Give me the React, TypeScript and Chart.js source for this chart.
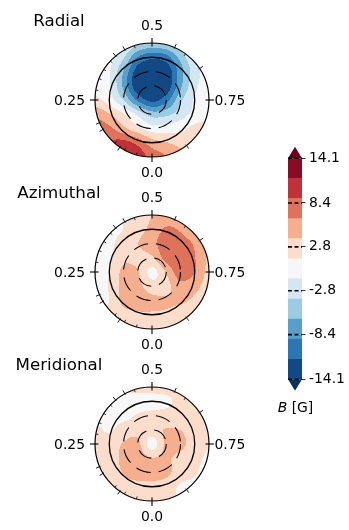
import React, { useEffect, useRef } from "react";
import { Chart, registerables } from "chart.js";

Chart.register(...registerables);

const FONT = "'DejaVu Sans', sans-serif";

// ---------- data ----------
const MAP_TITLES = ["Radial", "Azimuthal", "Meridional"];
const PHASE_TICKS = [0, 0.25, 0.5, 0.75];
const PHASE_TICK_LABELS = ["0.0", "0.25", "0.5", "0.75"];
const OBS_PHASES_OUT = [0.095, 0.164, 0.185, 0.39, 0.421, 0.565, 0.657, 0.897];
const OBS_PHASES_IN = [0.044, 0.08, 0.113, 0.278, 0.311, 0.34, 0.37, 0.45, 0.6];
const DASHED_COLATITUDES = [30, 60];
const EQUATOR_COLATITUDE = 90;
const EDGE_COLATITUDE = 120;

const CONTOUR_LEVELS = [-14.1, -11.54, -8.97, -6.41, -3.85, -1.28, 1.28, 3.85, 6.41, 8.97, 11.54, 14.1];
const LEVEL_COLORS = [
  "#124883", "#2d76b4", "#58a0ca", "#9dcbe1", "#d4e6f1", "#f7f7f7",
  "#fcddcb", "#f6af8e", "#de725b", "#bf3237", "#890b24",
];
const UNDER_COLOR = "#053061";
const OVER_COLOR = "#67001f";
const COLORBAR_TICKS = [-14.1, -8.4, -2.8, 2.8, 8.4, 14.1];
const COLORBAR_SYMBOL = "B";
const COLORBAR_UNIT = " [G]";

// field samples (G) on a 9x9 grid across each disc: rows top -> bottom, columns left -> right
const RADIAL_FIELD = [
  [0, 0, -1, -3.5, -4.5, -4, -2, -0.5, 0],
  [0, -0.5, -3.5, -9, -11, -10, -5.5, -1.5, 0],
  [0, -1, -6.5, -13, -13.8, -13.5, -7.5, -2.5, 0],
  [0.5, -1, -7, -13.5, -13.8, -13.5, -7, -2, 0],
  [2, 0, -4, -9.5, -12.2, -10, -4.5, -1, 0.5],
  [6, 4, 1.5, -2, -5, -4.5, -2.5, -0.5, 0.5],
  [8, 7, 4.5, 2, 0, 0, 0.5, 2, 2.5],
  [10, 9.5, 9.8, 8.2, 5, 4, 3, 3, 3],
  [12, 11.5, 11, 10.5, 8, 6.5, 5, 4, 4],
];
const AZIMUTHAL_FIELD = [
  [0.3, 0.5, 1.5, 3, 3.8, 4.5, 4.5, 3.5, 3],
  [0.3, 0.5, 1.3, 3, 4.5, 6.8, 6, 4, 3],
  [0.3, 0.5, 2.8, 3.8, 5.5, 8, 7.8, 6, 3.5],
  [0.3, 1, 3.2, 3.2, 3.5, 7.5, 8.5, 6.5, 3.5],
  [0.3, 1.3, 4.5, 4, 0.5, 4, 8, 6.5, 3],
  [0.3, 1.5, 4.8, 4.5, 2.5, 3, 5.5, 4.5, 3],
  [0.3, 1.3, 4.5, 5, 4.5, 4.2, 4.2, 3.5, 3],
  [0.8, 2, 3, 3.5, 3.6, 3.5, 3, 3, 2.5],
  [1, 1.5, 2.5, 3, 3, 3, 2.5, 2.5, 2.5],
];
const MERIDIONAL_FIELD = [
  [2, 2, 2, 2, 2.2, 2.2, 2.2, 2.2, 2.2],
  [1.5, 1, 0.3, 0.2, 0.3, 0.8, 2, 2.5, 2.5],
  [1, 0.3, 0.5, 1.5, 2, 2.2, 2.5, 2.5, 2.5],
  [1.8, 1, 2.5, 2.8, 3, 4, 3.8, 2.5, 2],
  [2.5, 2.5, 4, 4.5, 0, 4.5, 4.5, 2.5, 1.5],
  [2.5, 2.5, 4.5, 5, 4, 4.2, 3, 2, 0.8],
  [2.5, 2.5, 4, 5, 5, 4.5, 2.5, 1.5, 0.5],
  [2, 2.5, 3, 3, 3, 2.5, 1, 0.8, 0.8],
  [2, 2, 2.5, 2.5, 2.5, 2, 1.2, 1.2, 1.5],
];
const FIELDS = [RADIAL_FIELD, AZIMUTHAL_FIELD, MERIDIONAL_FIELD];

// ---------- layout ----------
const DISC_PX = 57;
const MAP_W = 262;
const MAP_H = 182;
const MAP_CX = 152;
const MAP_CENTERS_Y = [100, 271.5, 444.3];

// ---------- helpers ----------
function hexToRgb(h: string) {
  const n = parseInt(h.slice(1), 16);
  return [(n >> 16) & 255, (n >> 8) & 255, n & 255];
}
const LEVEL_RGB = LEVEL_COLORS.map(hexToRgb);
const UNDER_RGB = hexToRgb(UNDER_COLOR);
const OVER_RGB = hexToRgb(OVER_COLOR);

function colorFor(v: number) {
  if (v < CONTOUR_LEVELS[0]) return UNDER_RGB;
  for (let i = 0; i < LEVEL_RGB.length; i++) {
    if (v < CONTOUR_LEVELS[i + 1]) return LEVEL_RGB[i];
  }
  return OVER_RGB;
}

function cr(p0: number, p1: number, p2: number, p3: number, t: number) {
  return 0.5 * (2 * p1 + (-p0 + p2) * t + (2 * p0 - 5 * p1 + 4 * p2 - p3) * t * t + (-p0 + 3 * p1 - 3 * p2 + p3) * t * t * t);
}

function sampleField(f: number[][], u: number, v: number) {
  const n = f.length;
  const gx = ((u + 1) / 2) * (n - 1);
  const gy = ((1 - v) / 2) * (n - 1);
  const ix = Math.min(n - 2, Math.max(0, Math.floor(gx)));
  const iy = Math.min(n - 2, Math.max(0, Math.floor(gy)));
  const tx = gx - ix;
  const ty = gy - iy;
  const g = (r: number, c: number) => f[Math.min(n - 1, Math.max(0, r))][Math.min(n - 1, Math.max(0, c))];
  const rows: number[] = [];
  for (let k = -1; k <= 2; k++) {
    const r = iy + k;
    rows.push(cr(g(r, ix - 1), g(r, ix), g(r, ix + 1), g(r, ix + 2), tx));
  }
  const val = cr(rows[0], rows[1], rows[2], rows[3], ty);
  const corners = [g(iy, ix), g(iy, ix + 1), g(iy + 1, ix), g(iy + 1, ix + 1)];
  return Math.min(Math.max(...corners), Math.max(Math.min(...corners), val));
}

function makeMapPlugin(title: string, field: number[][]) {
  return {
    id: "stellarMap",
    afterDraw(chart: any) {
      const ctx: CanvasRenderingContext2D = chart.ctx;
      const xs = chart.scales.x;
      const ys = chart.scales.y;
      const cx = xs.getPixelForValue(0);
      const cy = ys.getPixelForValue(0);
      const R = xs.getPixelForValue(1) - cx;
      const toPx = (phase: number, rho: number) => {
        const a = 2 * Math.PI * phase;
        return [xs.getPixelForValue(-rho * Math.sin(a)), ys.getPixelForValue(-rho * Math.cos(a))];
      };

      // filled contours
      const x0 = Math.floor(cx - R) - 1;
      const y0 = Math.floor(cy - R) - 1;
      const w = Math.ceil(cx + R) + 2 - x0;
      const h = Math.ceil(cy + R) + 2 - y0;
      const img = ctx.createImageData(w, h);
      for (let j = 0; j < h; j++) {
        for (let i = 0; i < w; i++) {
          const u = xs.getValueForPixel(x0 + i + 0.5);
          const v = ys.getValueForPixel(y0 + j + 0.5);
          const rr = Math.sqrt(u * u + v * v);
          const cover = Math.max(0, Math.min(1, (1 - rr) * R + 0.5));
          if (cover <= 0) continue;
          const c = colorFor(sampleField(field, u, v));
          const k = (j * w + i) * 4;
          img.data[k] = c[0];
          img.data[k + 1] = c[1];
          img.data[k + 2] = c[2];
          img.data[k + 3] = Math.round(255 * cover);
        }
      }
      const tmp = document.createElement("canvas");
      tmp.width = w;
      tmp.height = h;
      (tmp.getContext("2d") as CanvasRenderingContext2D).putImageData(img, 0, 0);
      ctx.save();
      ctx.drawImage(tmp, x0, y0);

      // latitude circles
      ctx.strokeStyle = "#000";
      const circle = (colat: number, dash: number[], lw: number) => {
        const r = xs.getPixelForValue(colat / EDGE_COLATITUDE) - cx;
        ctx.beginPath();
        ctx.setLineDash(dash);
        ctx.lineWidth = lw;
        ctx.arc(cx, cy, r, 0, Math.PI * 2);
        ctx.stroke();
      };
      DASHED_COLATITUDES.forEach((c) => circle(c, [15, 8], 1.1));
      circle(EQUATOR_COLATITUDE, [], 1.3);
      circle(EDGE_COLATITUDE, [], 1.2);
      ctx.setLineDash([]);

      // phase ticks
      const tick = (phase: number, inner: number, outer: number, lw: number) => {
        const [ax, ay] = toPx(phase, 1 - inner / R);
        const [bx, by] = toPx(phase, 1 + outer / R);
        ctx.beginPath();
        ctx.lineWidth = lw;
        ctx.moveTo(ax, ay);
        ctx.lineTo(bx, by);
        ctx.stroke();
      };
      PHASE_TICKS.forEach((p) => tick(p, 3.5, 5, 1.1));
      OBS_PHASES_OUT.forEach((p) => tick(p, 1, 4, 0.9));
      OBS_PHASES_IN.forEach((p) => tick(p, 2.5, 0, 0.8));

      // phase labels
      ctx.fillStyle = "#000";
      ctx.font = `13.9px ${FONT}`;
      ctx.textBaseline = "alphabetic";
      PHASE_TICKS.forEach((p, i) => {
        const label = PHASE_TICK_LABELS[i];
        if (p === 0) {
          ctx.textAlign = "center";
          ctx.fillText(label, cx, cy + R + 20.3);
        } else if (p === 0.5) {
          ctx.textAlign = "center";
          ctx.fillText(label, cx, cy - R - 13);
        } else if (p === 0.25) {
          ctx.textAlign = "right";
          ctx.fillText(label, cx - R - 10, cy + 4.8);
        } else {
          ctx.textAlign = "left";
          ctx.fillText(label, cx + R + 5.5, cy + 4.8);
        }
      });

      // title
      ctx.font = `16.67px ${FONT}`;
      ctx.textAlign = "center";
      ctx.fillText(title, 59, cy - 73.8);
      ctx.restore();
    },
  };
}

function MapPanel({ index }: { index: number }) {
  const ref = useRef<HTMLCanvasElement>(null);
  useEffect(() => {
    const cyPix = MAP_H / 2;
    const chart = new Chart(ref.current as HTMLCanvasElement, {
      type: "scatter",
      data: { datasets: [{ data: [], pointRadius: 0 }] },
      options: {
        animation: false,
        responsive: false,
        maintainAspectRatio: false,
        events: [],
        layout: { padding: 0 },
        plugins: { legend: { display: false }, tooltip: { enabled: false } },
        scales: {
          x: { type: "linear", display: false, min: -MAP_CX / DISC_PX, max: (MAP_W - MAP_CX) / DISC_PX },
          y: { type: "linear", display: false, min: -cyPix / DISC_PX, max: cyPix / DISC_PX },
        },
      },
      plugins: [makeMapPlugin(MAP_TITLES[index], FIELDS[index])],
    } as any);
    return () => chart.destroy();
  }, [index]);
  return (
    <canvas
      ref={ref}
      width={MAP_W}
      height={MAP_H}
      style={{ position: "absolute", left: 0, top: MAP_CENTERS_Y[index] - MAP_H / 2, width: MAP_W, height: MAP_H }}
    />
  );
}

const CB_LEFT = 270;
const CB_TOP = 140;
const CB_W = 79;
const CB_H = 290;

const colorbarPlugin = {
  id: "colorbarExtras",
  afterDraw(chart: any) {
    const ctx: CanvasRenderingContext2D = chart.ctx;
    const ys = chart.scales.y;
    const { left, right } = chart.chartArea;
    const mid = (left + right) / 2;
    const yTop = ys.getPixelForValue(CONTOUR_LEVELS[CONTOUR_LEVELS.length - 1]);
    const yBot = ys.getPixelForValue(CONTOUR_LEVELS[0]);
    ctx.save();
    ctx.fillStyle = OVER_COLOR;
    ctx.beginPath();
    ctx.moveTo(left, yTop);
    ctx.lineTo(right, yTop);
    ctx.lineTo(mid, yTop - 11.5);
    ctx.closePath();
    ctx.fill();
    ctx.fillStyle = UNDER_COLOR;
    ctx.beginPath();
    ctx.moveTo(left, yBot);
    ctx.lineTo(right, yBot);
    ctx.lineTo(mid, yBot + 11.5);
    ctx.closePath();
    ctx.fill();

    ctx.strokeStyle = "#000";
    ctx.lineWidth = 1.6;
    ctx.setLineDash([4, 2.5]);
    COLORBAR_TICKS.forEach((t) => {
      const y = ys.getPixelForValue(t);
      ctx.beginPath();
      ctx.moveTo(left, y);
      ctx.lineTo(right, y);
      ctx.stroke();
    });
    ctx.setLineDash([]);

    // label
    ctx.fillStyle = "#000";
    ctx.textBaseline = "alphabetic";
    ctx.textAlign = "left";
    ctx.font = `italic 13.9px ${FONT}`;
    const w1 = ctx.measureText(COLORBAR_SYMBOL).width;
    ctx.font = `13.9px ${FONT}`;
    const w2 = ctx.measureText(COLORBAR_UNIT).width;
    const x0 = mid + 0.5 - (w1 + w2) / 2;
    const by = yBot + 33;
    ctx.font = `italic 13.9px ${FONT}`;
    ctx.fillText(COLORBAR_SYMBOL, x0, by);
    ctx.font = `13.9px ${FONT}`;
    ctx.fillText(COLORBAR_UNIT, x0 + w1, by);
    ctx.restore();
  },
};

function Colorbar() {
  const ref = useRef<HTMLCanvasElement>(null);
  useEffect(() => {
    const datasets = LEVEL_COLORS.map((c, i) => ({
      label: `${CONTOUR_LEVELS[i]}..${CONTOUR_LEVELS[i + 1]}`,
      data: [[CONTOUR_LEVELS[i], CONTOUR_LEVELS[i + 1]]],
      backgroundColor: c,
      borderWidth: 0,
      barPercentage: 1,
      categoryPercentage: 1,
    }));
    const chart = new Chart(ref.current as HTMLCanvasElement, {
      type: "bar",
      data: { labels: [""], datasets },
      options: {
        animation: false,
        responsive: false,
        maintainAspectRatio: false,
        events: [],
        layout: { padding: { left: 288 - CB_LEFT, top: 158.3 - CB_TOP, bottom: CB_TOP + CB_H - 379.3, right: 0 } },
        plugins: { legend: { display: false }, tooltip: { enabled: false } },
        scales: {
          x: { type: "category", display: false, stacked: true },
          y: {
            type: "linear",
            position: "right",
            min: CONTOUR_LEVELS[0],
            max: CONTOUR_LEVELS[CONTOUR_LEVELS.length - 1],
            afterBuildTicks: (s: any) => {
              s.ticks = COLORBAR_TICKS.map((v) => ({ value: v }));
            },
            afterFit: (s: any) => {
              s.width = CB_W - (302 - CB_LEFT);
            },
            ticks: {
              autoSkip: false,
              padding: 3.5,
              color: "#000",
              font: { family: FONT, size: 13.9 },
              callback: (v: any) => Number(v).toFixed(1),
            },
            grid: { display: true, drawOnChartArea: false, drawTicks: true, tickLength: 3.5, color: "#000", lineWidth: 0.8 },
            border: { display: false },
          },
        },
      },
      plugins: [colorbarPlugin],
    } as any);
    return () => chart.destroy();
  }, []);
  return (
    <canvas
      ref={ref}
      width={CB_W}
      height={CB_H}
      style={{ position: "absolute", left: CB_LEFT, top: CB_TOP, width: CB_W, height: CB_H }}
    />
  );
}

export default function App() {
  return (
    <div
      style={{
        position: "fixed",
        left: 0,
        top: 0,
        width: 349,
        height: 530,
        background: "#fff",
        overflow: "hidden",
      }}
    >
      {MAP_TITLES.map((_, i) => (
        <MapPanel key={i} index={i} />
      ))}
      <Colorbar />
    </div>
  );
}
